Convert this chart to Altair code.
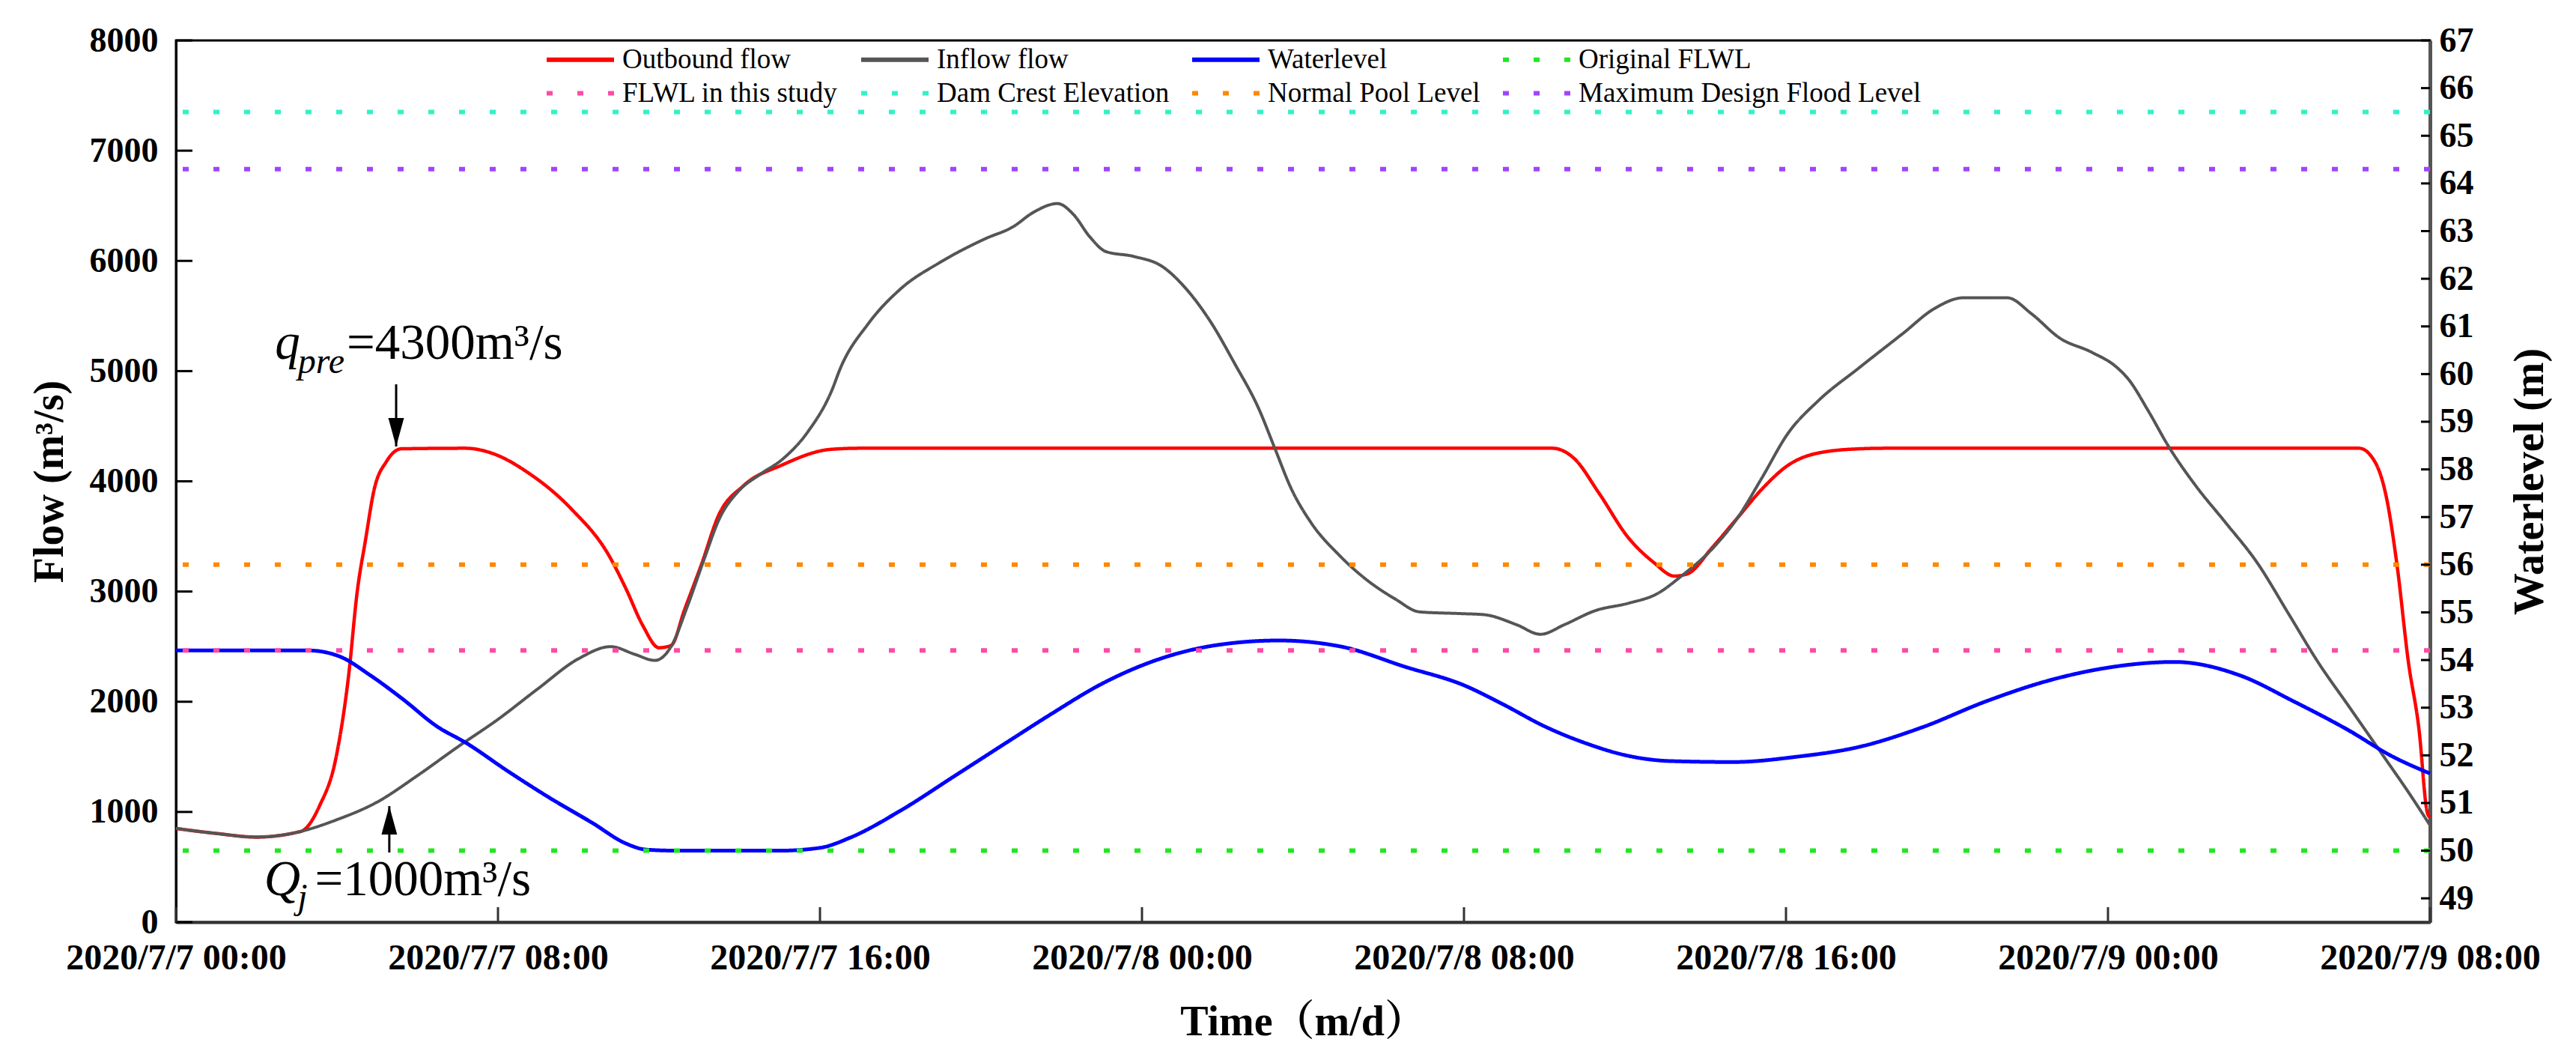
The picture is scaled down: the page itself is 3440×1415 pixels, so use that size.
import altair as alt
import pandas as pd

# Curves; hours counted from 2020/7/7 00:00.
INFLOW_HOURS = [0, 1, 2, 3, 4, 5, 6, 7, 8, 9, 10, 10.8, 11.4, 11.9, 12.3, 12.7, 13.1,
                13.5, 14.0, 14.5, 15.1, 15.7, 16.3, 16.5, 17.2, 18.0, 19.0, 20.1, 20.8,
                21.3, 21.9, 22.3, 22.7, 23.1, 23.8, 24.5, 25.1, 25.7, 26.3, 26.9, 27.3,
                27.7, 28.2, 28.9, 29.5, 30.3, 30.9, 31.9, 32.5, 33.3, 33.9, 34.5, 35.25,
                36.1, 36.8, 37.4, 38.2, 38.8, 39.4, 40.05, 40.8, 41.8, 42.9, 43.7, 44.4,
                45.5, 46.1, 46.8, 47.6, 48.2, 48.5, 49.0, 49.5, 50.2, 50.9, 51.7, 52.5,
                53.2, 54.0, 54.8, 55.5, 56.0]
INFLOW = [850, 805, 772, 815, 930, 1090, 1330, 1590, 1840, 2120, 2390, 2500, 2430, 2375,
          2500, 2860, 3270, 3660, 3920, 4060, 4210, 4450, 4830, 5020, 5430, 5745, 5990,
          6200, 6310, 6440, 6520, 6420, 6220, 6085, 6040, 5950, 5745, 5450, 5070, 4660,
          4300, 3940, 3625, 3330, 3130, 2930, 2815, 2800, 2790, 2700, 2612, 2700, 2825,
          2895, 2980, 3140, 3400, 3670, 4030, 4435, 4730, 5025, 5340, 5570, 5665, 5665,
          5520, 5300, 5170, 5040, 4930, 4640, 4320, 3950, 3635, 3265, 2790, 2370, 1950,
          1530, 1160, 880]

OUTBOUND_HOURS = [0, 1, 2, 3, 3.15, 3.56, 3.98, 4.29, 4.5, 4.71, 4.92, 5.23, 5.6, 7.2,
                  7.84, 8.78, 9.82, 10.76, 11.18, 11.6, 12.0, 12.3, 12.64, 13.06, 13.48,
                  14.1, 15.04, 16.27, 17.0, 34.2, 34.73, 35.35, 36.08, 36.71, 37.23,
                  37.55, 38.17, 38.8, 39.43, 40.05, 40.78, 41.83, 42.5, 54.24, 54.65,
                  54.92, 55.19, 55.46, 55.73, 55.93, 56.0]
OUTBOUND = [850, 805, 772, 815, 830, 1050, 1500, 2240, 2990, 3470, 3920, 4180, 4295, 4300,
            4256, 4070, 3750, 3325, 3025, 2690, 2490, 2510, 2840, 3250, 3690, 3960, 4145,
            4290, 4300, 4300, 4210, 3895, 3490, 3265, 3140, 3160, 3400, 3670, 3940, 4145,
            4255, 4295, 4300, 4300, 4165, 3850, 3215, 2370, 1740, 1000, 950]

LEVEL_HOURS = [0, 3.3, 4.08, 4.81, 5.65, 6.48, 7.21, 8.26, 9.3, 10.35, 11.18, 11.7, 12.5,
               15.0, 16.0, 16.74, 18.0, 19.35, 20.6, 21.75, 23.0, 24.26, 25.83, 27.4,
               28.96, 30.53, 32.0, 32.95, 34.0, 35.04, 36.08, 37.13, 38.69, 40.26, 41.83,
               43.39, 44.96, 46.53, 48.0, 49.65, 51.27, 52.62, 53.97, 55.06, 56.0]
LEVEL = [54.2, 54.2, 54.07, 53.69, 53.17, 52.61, 52.26, 51.66, 51.1, 50.58, 50.15, 50.02,
         50.0, 50.0, 50.06, 50.27, 50.84, 51.57, 52.25, 52.87, 53.5, 53.97, 54.31, 54.41,
         54.28, 53.86, 53.47, 53.08, 52.61, 52.25, 51.99, 51.88, 51.86, 51.97, 52.18,
         52.59, 53.13, 53.57, 53.84, 53.96, 53.68, 53.13, 52.53, 51.98, 51.62]

REF_NAMES = ["Original FLWL", "FLWL in this study", "Dam Crest Elevation",
             "Normal Pool Level", "Maximum Design Flood Level"]
REF_LEVELS = [50.0, 54.2, 65.5, 56.0, 64.3]

SERIES = ["Outbound flow", "Inflow flow", "Waterlevel"] + REF_NAMES
COLORS = ["#ff0000", "#555555", "#0000ff", "#22e622", "#ff4aa5", "#33f2c4", "#ff8800", "#a044ff"]
DOT = [8, 33]
DASHES = [[1, 0], [1, 0], [1, 0], DOT, DOT, DOT, DOT, DOT]

FLOW_TICKS = list(range(0, 8001, 1000))
LEVEL_TICKS = list(range(49, 68))
TIME_TICKS = [0, 8, 16, 24, 32, 40, 48, 56]

# annotation pieces: italic letter, italic subscript, upright rest
VAR_TEXT, VAR_HOURS, VAR_FLOW = ["q", "Q"], [2.46, 2.19], [5111, 245]
SUB_TEXT, SUB_HOURS, SUB_FLOW = ["pre", "j"], [3.03, 3.02], [4982, 120]
EQ_TEXT, EQ_HOURS, EQ_FLOW = ["=4300m³/s", "=1000m³/s"], [4.24, 3.45], [5111, 245]
ARROW_HOURS, ARROW_FROM, ARROW_TIP = [5.47, 5.30], [4880, 632], [4316, 1053]

W, H = 3010, 1177
SERIF = "Liberation Serif, Times New Roman, Noto Serif CJK SC, Noto Sans CJK SC"

# hours since 2020/7/7 00:00 -> "2020/7/d HH:MM"
TIME_LABEL = (
    "'2020/7/' + (7 + floor(datum.value / 24)) + ' ' + "
    "(datum.value % 24 < 10 ? '0' : '') + (datum.value % 24) + ':00'"
)

X_SCALE = alt.Scale(domain=[0, 56], nice=False, zero=False)
FLOW_SCALE = alt.Scale(domain=[0, 8000], nice=False, zero=False)
LEVEL_SCALE = alt.Scale(domain=[48.5, 67], nice=False, zero=False)

legend = alt.Legend(
    title=None, orient="none", legendX=492, legendY=0, columns=4, direction="horizontal",
    columnPadding=18, rowPadding=1, symbolType="M-1,0L3,0", symbolSize=2025,
    symbolStrokeWidth=6, labelFont=SERIF, labelFontSize=37, labelColor="black",
    labelLimit=1000, labelOffset=53,
)
color = alt.Color("series:N", scale=alt.Scale(domain=SERIES, range=COLORS), legend=legend)
dash = alt.StrokeDash("series:N", scale=alt.Scale(domain=SERIES, range=DASHES), legend=legend)

# x is shared by every layer, so the axis is described once and never switched off
X_AXIS = alt.Axis(values=TIME_TICKS, labelExpr=TIME_LABEL, ticks=False, labelPadding=24,
                  labelFontSize=48, labelLimit=1000, titlePadding=34, domainColor="#333333",
                  domainWidth=4, labelFlush=False)
x_time = alt.X("hour:Q", scale=X_SCALE, title="Time（m/d）", axis=X_AXIS)
# y is independent per layer: only the two real axes are drawn
y_flow = alt.Y("flow:Q", scale=FLOW_SCALE, axis=None)
y_level = alt.Y("level:Q", scale=LEVEL_SCALE, axis=None)


def frame(name, hours, values, col):
    return pd.DataFrame({"series": name, "hour": hours, col: values})


outbound = (
    alt.Chart(frame("Outbound flow", OUTBOUND_HOURS, OUTBOUND, "flow"))
    .mark_line(strokeWidth=4.5, interpolate="monotone")
    .encode(
        x=x_time,
        y=alt.Y("flow:Q", scale=FLOW_SCALE, title="Flow (m³/s)",
                axis=alt.Axis(values=FLOW_TICKS, format="d", ticks=False, labelPadding=24,
                              titlePadding=24, domainColor="black", domainWidth=3)),
        color=color, strokeDash=dash,
    )
)
inflow = (
    alt.Chart(frame("Inflow flow", INFLOW_HOURS, INFLOW, "flow"))
    .mark_line(strokeWidth=4, interpolate="monotone")
    .encode(x=x_time, y=y_flow, color=color, strokeDash=dash)
)

flow_ticks = alt.Chart(pd.DataFrame({"flow": FLOW_TICKS})).mark_rule(color="black", strokeWidth=3).encode(
    y=y_flow, x=alt.value(0), x2=alt.value(22)
)
time_ticks = alt.Chart(pd.DataFrame({"hour": TIME_TICKS})).mark_rule(
    color="#333333", strokeWidth=3
).encode(x=x_time, y=alt.value(H), y2=alt.value(H - 20))


def text_layer(texts, hours, flows, size, italic):
    df = pd.DataFrame({"label": texts, "hour": hours, "flow": flows})
    return alt.Chart(df).mark_text(
        font=SERIF, fontSize=size, fontStyle="italic" if italic else "normal",
        align="left", baseline="alphabetic", color="black",
    ).encode(x=x_time, y=y_flow, text="label:N")


arrow_df = pd.DataFrame({
    "hour": ARROW_HOURS, "flow": ARROW_FROM, "tip": ARROW_TIP,
    "shape": ["M0,0L-0.55,-2L0.55,-2Z", "M0,0L-0.55,2L0.55,2Z"],
})
arrow_lines = alt.Chart(arrow_df).mark_rule(color="black", strokeWidth=3).encode(
    x=x_time, y=y_flow, y2="tip:Q"
)
arrow_heads = alt.Chart(arrow_df).mark_point(filled=True, color="black", opacity=1, size=1444).encode(
    x=x_time, y=alt.Y("tip:Q", scale=FLOW_SCALE, axis=None),
    shape=alt.Shape("shape:N", scale=None),
)

waterlevel = (
    alt.Chart(frame("Waterlevel", LEVEL_HOURS, LEVEL, "level"))
    .mark_line(strokeWidth=5, interpolate="monotone")
    .encode(
        x=x_time,
        y=alt.Y("level:Q", scale=LEVEL_SCALE, title="Waterlevel (m)",
                axis=alt.Axis(orient="right", values=LEVEL_TICKS, ticks=False,
                              labelPadding=12, titlePadding=48, titleAngle=270,
                              titleBaseline="top", domainColor="#555555", domainWidth=5)),
        color=color, strokeDash=dash,
    )
)
refs = alt.Chart(pd.DataFrame({"series": REF_NAMES, "level": REF_LEVELS})).mark_rule(strokeWidth=6).encode(
    y=y_level, color=color, strokeDash=dash
)
level_ticks = alt.Chart(pd.DataFrame({"level": LEVEL_TICKS})).mark_rule(color="black", strokeWidth=3).encode(
    y=y_level, x=alt.value(W - 12), x2=alt.value(W)
)

chart = (
    alt.layer(
        outbound, inflow, waterlevel, refs, flow_ticks, time_ticks, level_ticks,
        text_layer(VAR_TEXT, VAR_HOURS, VAR_FLOW, 67, True),
        text_layer(SUB_TEXT, SUB_HOURS, SUB_FLOW, 48, True),
        text_layer(EQ_TEXT, EQ_HOURS, EQ_FLOW, 67, False),
        arrow_lines, arrow_heads,
    )
    .resolve_scale(y="independent")
    .properties(width=W, height=H, autosize=alt.AutoSizeParams(type="none"),
                padding={"left": 227, "top": 46, "right": 187, "bottom": 170})
    .configure(background="white")
    .configure_view(stroke="black", strokeWidth=3)
    .configure_axis(
        grid=False, labelFont=SERIF, labelFontSize=46, labelFontWeight="bold", labelColor="black",
        titleFont=SERIF, titleFontSize=56, titleFontWeight="bold", titleColor="black",
    )
)

chart.save("out.html", embed_options={"renderer": "svg", "actions": False})
